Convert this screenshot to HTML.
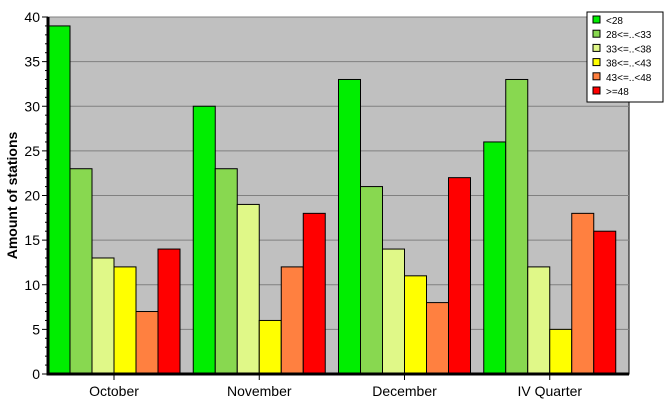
<!DOCTYPE html>
<html><head><meta charset="utf-8"><style>body{margin:0;background:#fff}svg{display:block;font-family:"Liberation Sans",sans-serif}</style></head>
<body>
<svg width="667" height="415">
<g id="plot"></g>
<rect x="587" y="12" width="76" height="90" fill="#fff" stroke="#000"/>
<g id="legend"></g>
</svg>
<script>
const categories=["October","November","December","IV Quarter"];
const seriesNames=["<28","28<=..<33","33<=..<38","38<=..<43","43<=..<48",">=48"];
const seriesColors=["#00ee00","#88d850","#e0f888","#ffff00","#ff8040","#ff0000"];
const s0=[39,30,33,26];
const s1=[23,23,21,33];
const s2=[13,19,14,12];
const s3=[12,6,11,5];
const s4=[7,12,8,18];
const s5=[14,18,22,16];
const series=[s0,s1,s2,s3,s4,s5];
const yTicks=[0,5,10,15,20,25,30,35,40];
const NS="http://www.w3.org/2000/svg";
const L=48,R=629,T=17,B=374,yMax=40;
const y=v=>B-(v/yMax)*(B-T);
const gw=(R-L)/categories.length, bw=22;
const g=document.getElementById('plot');
function mk(t,a,p){const e=document.createElementNS(NS,t);for(const k in a)e.setAttribute(k,a[k]);(p||g).appendChild(e);return e;}
const bg=mk('rect',{x:L,y:T,width:R-L,height:B-T,fill:'#c0c0c0',stroke:'#000'});


yTicks.forEach(v=>{
  if(v>0){const l=mk('line',{x1:L,x2:R,y1:y(v),y2:y(v),stroke:'#808080'});
  
  }
  const tk=mk('line',{x1:L-6,x2:L,y1:y(v),y2:y(v),stroke:'#000'});
  
  
  const t=mk('text',{x:L-8,y:y(v)+5,'text-anchor':'end','font-size':'14'});t.textContent=v;
  
  
});
for(let v=1;v<yMax;v++){if(v%5){const m=mk('line',{x1:L-3,x2:L,y1:y(v),y2:y(v),stroke:'#000'});

}}
categories.forEach((c,i)=>{
  const x0=L+i*gw;
  series.forEach((s,j)=>{
    const r=mk('rect',{x:x0+j*bw,y:y(s[i]),width:bw,height:B-y(s[i]),fill:seriesColors[j],stroke:'#000'});
    
    
  });
  const cx=x0+3*bw;
  const tk=mk('line',{x1:cx,x2:cx,y1:B,y2:B+6,stroke:'#000'});
  
  
  const t=mk('text',{x:cx,y:B+22,'text-anchor':'middle','font-size':'14'});t.textContent=c;
  
  
});
const ax=mk('path',{d:`M${L},${T}V${B}H${R}`,fill:'none',stroke:'#000','stroke-width':3});


const yt=mk('text',{x:17,y:(T+B)/2,'text-anchor':'middle','font-size':'14','font-weight':'bold',transform:`rotate(-90 17 ${(T+B)/2})`});
yt.textContent='Amount of stations';


const lg=document.getElementById('legend');
seriesNames.forEach((n,j)=>{
  const yy=20+j*14.2;
  const r=mk('rect',{x:593,y:yy-4,width:7,height:7,fill:seriesColors[j],stroke:'#000'},lg);
  
  
  const t=mk('text',{x:606,y:yy+4,'font-size':'10'},lg);t.textContent=n;
  
  
});
</script>
</body></html>
